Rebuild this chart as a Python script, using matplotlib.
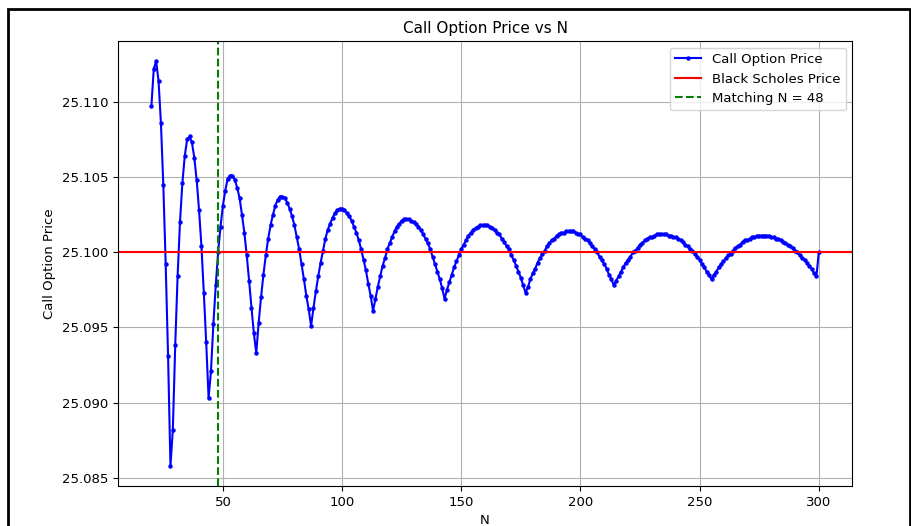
import matplotlib
matplotlib.use("Agg")
import matplotlib.pyplot as plt
from matplotlib.patches import Rectangle

# Binomial call prices, N = 20 .. 300
n_steps = list(range(20, 301))
call_prices = [
    # N = 20 .. 39
    25.1097, 25.1122, 25.1127, 25.1114, 25.1086, 25.1045, 25.0992, 25.0931, 25.0858, 25.0882,
    25.0938, 25.0984, 25.1020, 25.1046, 25.1064, 25.1075, 25.1077, 25.1073, 25.1063, 25.1048,
    # N = 40 .. 59
    25.1028, 25.1004, 25.0973, 25.0940, 25.0903, 25.0921, 25.0952, 25.0978, 25.1000, 25.1017,
    25.1031, 25.1041, 25.1049, 25.1051, 25.1051, 25.1048, 25.1043, 25.1036, 25.1025, 25.1013,
    # N = 60 .. 79
    25.0998, 25.0981, 25.0963, 25.0946, 25.0933, 25.0953, 25.0970, 25.0985, 25.0998, 25.1009,
    25.1018, 25.1025, 25.1031, 25.1035, 25.1037, 25.1037, 25.1036, 25.1033, 25.1029, 25.1024,
    # N = 80 .. 99
    25.1018, 25.1010, 25.1002, 25.0992, 25.0982, 25.0971, 25.0962, 25.0951, 25.0963, 25.0974,
    25.0984, 25.0993, 25.1001, 25.1009, 25.1015, 25.1019, 25.1023, 25.1026, 25.1028, 25.1029,
    # N = 100 .. 119
    25.1029, 25.1028, 25.1026, 25.1024, 25.1021, 25.1017, 25.1013, 25.1008, 25.1002, 25.0995,
    25.0988, 25.0979, 25.0971, 25.0961, 25.0969, 25.0977, 25.0984, 25.0991, 25.0996, 25.1002,
    # N = 120 .. 139
    25.1006, 25.1010, 25.1014, 25.1017, 25.1019, 25.1021, 25.1022, 25.1022, 25.1022, 25.1021,
    25.1020, 25.1019, 25.1017, 25.1015, 25.1012, 25.1009, 25.1006, 25.1002, 25.0997, 25.0992,
    # N = 140 .. 159
    25.0987, 25.0982, 25.0976, 25.0969, 25.0975, 25.0980, 25.0985, 25.0990, 25.0994, 25.0998,
    25.1002, 25.1005, 25.1008, 25.1011, 25.1013, 25.1015, 25.1016, 25.1017, 25.1018, 25.1018,
    # N = 160 .. 179
    25.1018, 25.1018, 25.1017, 25.1016, 25.1015, 25.1013, 25.1012, 25.1009, 25.1007, 25.1004,
    25.1002, 25.0998, 25.0995, 25.0991, 25.0987, 25.0983, 25.0978, 25.0973, 25.0977, 25.0982,
    # N = 180 .. 199
    25.0986, 25.0989, 25.0993, 25.0996, 25.0999, 25.1001, 25.1004, 25.1006, 25.1008, 25.1009,
    25.1011, 25.1012, 25.1013, 25.1013, 25.1014, 25.1014, 25.1014, 25.1014, 25.1013, 25.1012,
    # N = 200 .. 219
    25.1012, 25.1010, 25.1009, 25.1008, 25.1006, 25.1004, 25.1002, 25.1000, 25.0997, 25.0995,
    25.0992, 25.0989, 25.0985, 25.0982, 25.0978, 25.0981, 25.0984, 25.0987, 25.0990, 25.0993,
    # N = 220 .. 239
    25.0995, 25.0997, 25.1000, 25.1001, 25.1003, 25.1005, 25.1006, 25.1008, 25.1009, 25.1010,
    25.1010, 25.1011, 25.1012, 25.1012, 25.1012, 25.1012, 25.1012, 25.1011, 25.1011, 25.1010,
    # N = 240 .. 259
    25.1010, 25.1009, 25.1008, 25.1007, 25.1005, 25.1004, 25.1002, 25.1001, 25.0999, 25.0997,
    25.0995, 25.0992, 25.0990, 25.0987, 25.0985, 25.0982, 25.0985, 25.0987, 25.0990, 25.0992,
    # N = 260 .. 279
    25.0994, 25.0996, 25.0998, 25.0999, 25.1001, 25.1003, 25.1004, 25.1005, 25.1007, 25.1008,
    25.1008, 25.1009, 25.1010, 25.1010, 25.1011, 25.1011, 25.1011, 25.1011, 25.1011, 25.1011,
    # N = 280 .. 300
    25.1010, 25.1010, 25.1009, 25.1009, 25.1008, 25.1007, 25.1006, 25.1005, 25.1004, 25.1003,
    25.1001, 25.1000, 25.0998, 25.0996, 25.0995, 25.0993, 25.0991, 25.0989, 25.0986, 25.0984,
    25.1000,
]
bs_price = 25.1000
matching_n = 48

plt.rcParams['font.size'] = 9.5

fig = plt.figure(figsize=(9.12, 5.26), dpi=100)
ax = fig.add_axes([0.1294, 0.076, 0.805, 0.846])

ax.plot(n_steps, call_prices, color='blue', marker='o', markersize=2.2,
        linewidth=1.5, label='Call Option Price')
ax.axhline(bs_price, color='red', linewidth=1.5, label='Black Scholes Price')
ax.axvline(matching_n, color='green', linestyle='--', linewidth=1.5,
           label=f'Matching N = {matching_n}')

ax.set_title('Call Option Price vs N', fontsize=11)
ax.set_xlabel('N')
ax.set_ylabel('Call Option Price')
ax.grid(True)
ax.legend(loc='upper right')

# Black frame from the screenshot
fig.patches.append(Rectangle((8.5 / 912, -0.1), (910 - 8.5) / 912, 1.1 - 8.5 / 526,
                             transform=fig.transFigure, fill=False,
                             edgecolor='black', linewidth=2))

fig.savefig('out.png', dpi=100)
